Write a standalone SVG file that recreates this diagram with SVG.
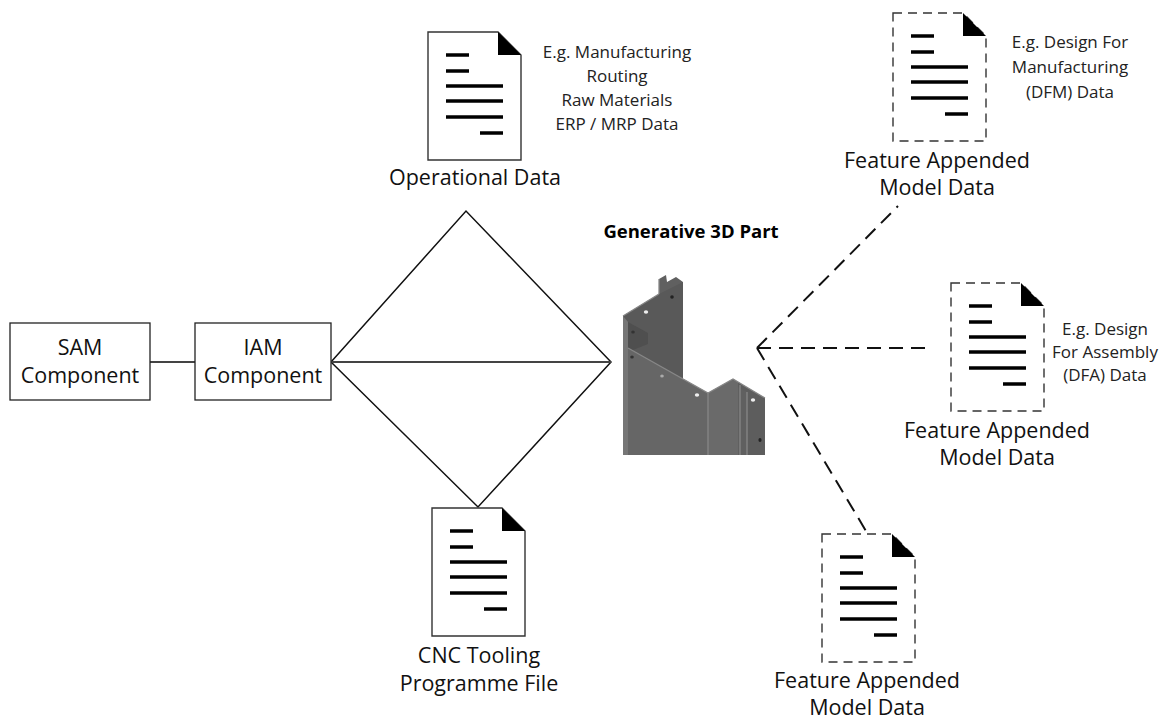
<svg xmlns="http://www.w3.org/2000/svg" xmlns:xlink="http://www.w3.org/1999/xlink" width="1176" height="724" viewBox="0 0 1176 724">
  <style>
    .lbl { font-family: "Open Sans", "Liberation Sans", sans-serif; font-size: 21.5px; fill: #111; text-anchor: middle; }
    .note { font-family: "Open Sans", "Liberation Sans", sans-serif; font-size: 17px; fill: #222; text-anchor: middle; }
    .title { font-family: "Open Sans", "Liberation Sans", sans-serif; font-size: 18.5px; font-weight: bold; fill: #000; text-anchor: middle; }
    .box { fill: #fff; stroke: #222; stroke-width: 1.3; }
    .doc-solid { fill: #fff; stroke: #333; stroke-width: 1.4; }
    .doc-dash { fill: #fff; stroke: #333; stroke-width: 1.4; stroke-dasharray: 9 6; }
    .txtline { stroke: #000; stroke-width: 3.5; }
    .link { fill: none; stroke: #444; stroke-width: 2; }
    .diamond { fill: none; stroke: #111; stroke-width: 1.5; }
    .dashlink { fill: none; stroke: #111; stroke-width: 2; stroke-dasharray: 14 8; }
  </style>
  <defs>
    <!-- page contents shared by every document icon: folded corner + text bars -->
    <g id="doc-body">
      <path d="M70,0 L70,23 L93,23 Z" fill="#000"/>
      <line class="txtline" x1="18" y1="23" x2="41" y2="23"/>
      <line class="txtline" x1="18" y1="39" x2="41" y2="39"/>
      <line class="txtline" x1="18" y1="54" x2="75" y2="54"/>
      <line class="txtline" x1="18" y1="69" x2="75" y2="69"/>
      <line class="txtline" x1="18" y1="85" x2="75" y2="85"/>
      <line class="txtline" x1="52" y1="101" x2="75" y2="101"/>
    </g>
    <path id="doc-outline" d="M0,0 H70 L93,23 V128 H0 Z"/>
  </defs>

  <rect width="1176" height="724" fill="#fff"/>

  <!-- connectors -->
  <g id="connectors">
    <line class="link" x1="150" y1="362" x2="195" y2="362"/>
    <path class="diamond" d="M331,362 L466,211 L611,362 L478,507 Z"/>
    <line class="link" x1="331" y1="362" x2="611" y2="362"/>
    <line class="dashlink" x1="757" y1="348" x2="898" y2="206"/>
    <line class="dashlink" x1="757" y1="348" x2="932" y2="348"/>
    <line class="dashlink" x1="757" y1="348" x2="866" y2="531"/>
  </g>

  <!-- SAM component -->
  <g id="sam">
    <rect class="box" x="10" y="323" width="140" height="77"/>
    <text class="lbl" x="80" y="355">SAM</text>
    <text class="lbl" x="80" y="383">Component</text>
  </g>

  <!-- IAM component -->
  <g id="iam">
    <rect class="box" x="195" y="323" width="136" height="77"/>
    <text class="lbl" x="263" y="355">IAM</text>
    <text class="lbl" x="263" y="383">Component</text>
  </g>

  <!-- Operational data -->
  <g id="operational-data">
    <use xlink:href="#doc-outline" class="doc-solid" transform="translate(428,32)"/>
    <use xlink:href="#doc-body" transform="translate(428,32)"/>
    <text class="note" x="617" y="58">E.g. Manufacturing</text>
    <text class="note" x="617" y="82">Routing</text>
    <text class="note" x="617" y="106">Raw Materials</text>
    <text class="note" x="617" y="130">ERP / MRP Data</text>
    <text class="lbl" x="475" y="185">Operational Data</text>
  </g>

  <!-- CNC tooling programme -->
  <g id="cnc-file">
    <use xlink:href="#doc-outline" class="doc-solid" transform="translate(432,508)"/>
    <use xlink:href="#doc-body" transform="translate(432,508)"/>
    <text class="lbl" x="479" y="663">CNC Tooling</text>
    <text class="lbl" x="479" y="691">Programme File</text>
  </g>

  <!-- Generative part -->
  <g id="generative-part">
    <text class="title" x="691" y="238">Generative 3D Part</text>
    <path d="M623,316 L659,294 L659,279 L666,275 L667,282 L676,277 L683,282 L683,380 L708,393 L733,379 L765,398 L765,455 L623,455 Z" fill="#606060"/>
    <path d="M623,316 L659,294 L683,282 L683,380 L628,348 L628,322 Z" fill="#595959"/>
    <path d="M628,322 L648,333 L648,344 L628,352 Z" fill="#4f4f4f"/>
    <path d="M628,348 L708,393 L708,455 L628,455 Z" fill="#666"/>
    <path d="M623,316 L628,322 L628,455 L623,455 Z" fill="#767676"/>
    <path d="M708,393 L733,379 L738,382 L738,455 L708,455 Z" fill="#6a6a6a"/>
    <path d="M738,382 L765,398 L765,455 L747,455 L747,392 L738,387 Z" fill="#5d5d5d"/>
    <g fill="none" stroke="#878787" stroke-width="1.3">
      <path d="M623,316 L659,294"/>
      <path d="M628,348 L708,393 L733,379 L765,398"/>
      <path d="M708,393 L708,455"/>
      <path d="M740,385 L740,455"/>
      <path d="M747,392 L747,455"/>
      <path d="M659,279 L659,294"/>
    </g>
    <ellipse cx="646" cy="312" rx="2.2" ry="1.8" fill="#eee"/>
    <ellipse cx="697" cy="395" rx="2.2" ry="1.8" fill="#eee"/>
    <ellipse cx="753" cy="400" rx="2.2" ry="1.8" fill="#eee"/>
    <ellipse cx="662" cy="376" rx="1.8" ry="1.5" fill="#aaa"/>
    <ellipse cx="672" cy="297" rx="1.8" ry="1.8" fill="#222"/>
    <ellipse cx="633" cy="332" rx="1.8" ry="1.6" fill="#333"/>
    <ellipse cx="632" cy="357" rx="1.8" ry="1.6" fill="#333"/>
    <ellipse cx="760" cy="440" rx="1.6" ry="2" fill="#222"/>
  </g>

  <!-- Feature appended model data: DFM -->
  <g id="fam-dfm">
    <use xlink:href="#doc-outline" class="doc-dash" transform="translate(893,13)"/>
    <use xlink:href="#doc-body" transform="translate(893,13)"/>
    <text class="note" x="1070" y="48">E.g. Design For</text>
    <text class="note" x="1070" y="73">Manufacturing</text>
    <text class="note" x="1070" y="98">(DFM) Data</text>
    <text class="lbl" x="937" y="168">Feature Appended</text>
    <text class="lbl" x="937" y="195">Model Data</text>
  </g>

  <!-- Feature appended model data: DFA -->
  <g id="fam-dfa">
    <use xlink:href="#doc-outline" class="doc-dash" transform="translate(951,283)"/>
    <use xlink:href="#doc-body" transform="translate(951,283)"/>
    <text class="note" x="1105" y="335">E.g. Design</text>
    <text class="note" x="1105" y="358">For  Assembly</text>
    <text class="note" x="1105" y="381">(DFA) Data</text>
    <text class="lbl" x="997" y="438">Feature Appended</text>
    <text class="lbl" x="997" y="465">Model Data</text>
  </g>

  <!-- Feature appended model data: bottom -->
  <g id="fam-bottom">
    <use xlink:href="#doc-outline" class="doc-dash" transform="translate(822,534)"/>
    <use xlink:href="#doc-body" transform="translate(822,534)"/>
    <text class="lbl" x="867" y="688">Feature Appended</text>
    <text class="lbl" x="867" y="715">Model Data</text>
  </g>
</svg>
